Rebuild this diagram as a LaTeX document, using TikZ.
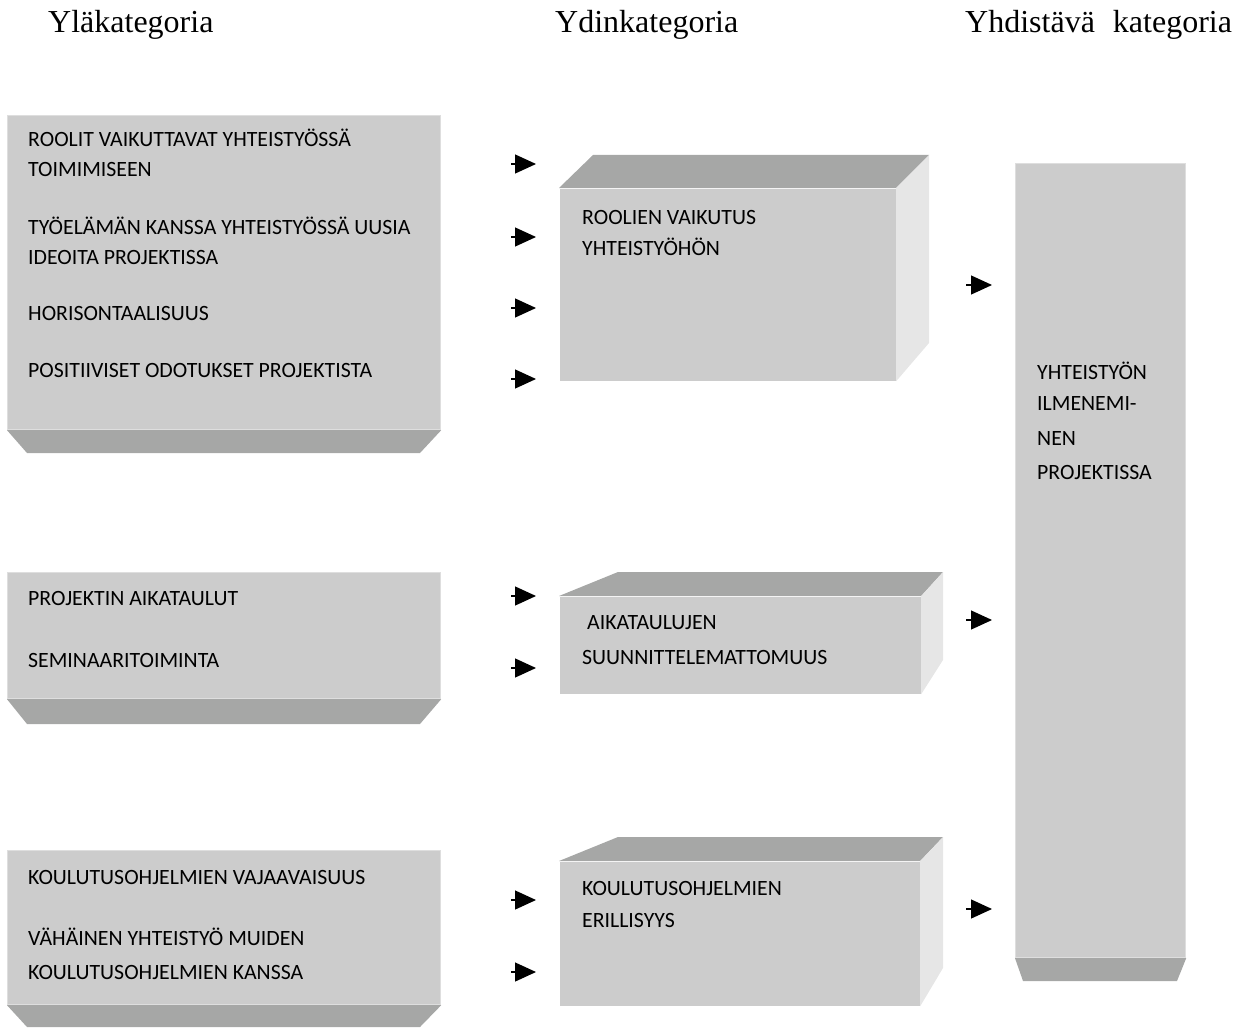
\documentclass[tikz,border=0pt]{standalone}
\usepackage{fontspec}
\setmainfont{Liberation Serif}
\newfontfamily\boxfont{Carlito}
\usetikzlibrary{arrows.meta}
\definecolor{frontgray}{RGB}{204,204,204}
\definecolor{bevelgray}{RGB}{166,167,166}
\definecolor{sidegray}{RGB}{230,230,230}
\definecolor{edgegray}{RGB}{222,222,222}
\tikzset{
  front/.style={fill=frontgray, draw=edgegray, line width=1.2pt, inner sep=0pt, anchor=north west},
  bevel/.style={fill=bevelgray},
  sideface/.style={fill=sidegray},
  topface/.style={fill=bevelgray},
  lbl/.style={font=\boxfont\fontsize{21.8}{30}\selectfont, anchor=base west, inner sep=0pt, text=black},
  title/.style={font=\fontsize{32}{36}\selectfont, anchor=base west, inner sep=0pt},
  arr/.style={line width=1.2pt, -{Triangle[length=21pt,width=19pt]}}
}
\begin{document}
\begin{tikzpicture}[x=1pt,y=-1pt]
\useasboundingbox (0,0) rectangle (1246,1027);
% titles
\node[title] (t1) at (48,33) {Yläkategoria};
\node[title] (t2) at (555,33) {Ydinkategoria};
\node[title] (t3) at (965,33) {Yhdistävä\hspace{18pt}kategoria};

% left boxes
\node[front, minimum width=433pt, minimum height=314pt] (L1) at (7,115) {};
\fill[bevel] (L1.south west) -- (L1.south east) -- (420,453) -- (27,453) -- cycle;
\node[front, minimum width=433pt, minimum height=126pt] (L2) at (7,572) {};
\fill[bevel] (L2.south west) -- (L2.south east) -- (420,724) -- (27,724) -- cycle;
\node[front, minimum width=433pt, minimum height=154pt] (L3) at (7,850) {};
\fill[bevel] (L3.south west) -- (L3.south east) -- (420,1027) -- (27,1027) -- cycle;

% middle boxes
\node[front, draw=none, minimum width=336pt, minimum height=192pt] (M1) at (559,188) {};
\fill[topface] (M1.north west) -- (593,155) -- (929,155) -- (M1.north east) -- cycle;
\fill[sideface] (M1.north east) -- (929,155) -- (929,343) -- (M1.south east) -- cycle;
\node[front, draw=none, minimum width=361pt, minimum height=97pt] (M2) at (559,596) {};
\fill[topface] (M2.north west) -- (618,572) -- (943,572) -- (M2.north east) -- cycle;
\fill[sideface] (M2.north east) -- (943,572) -- (943,660) -- (M2.south east) -- cycle;
\node[front, draw=none, minimum width=360pt, minimum height=144pt] (M3) at (559,861) {};
\fill[topface] (M3.north west) -- (618,837) -- (943,837) -- (M3.north east) -- cycle;
\fill[sideface] (M3.north east) -- (943,837) -- (943,968) -- (M3.south east) -- cycle;

% right tall box
\node[front, minimum width=170pt, minimum height=794pt] (R) at (1015,163) {};
\fill[bevel] (R.south west) -- (R.south east) -- (1177,981) -- (1023,981) -- cycle;

% texts left
\node[lbl] (l1a) at (28,147) {ROOLIT VAIKUTTAVAT YHTEISTYÖSSÄ};
\node[lbl] (l1b) at (28,177) {TOIMIMISEEN};
\node[lbl] (l1c) at (28,234) {TYÖELÄMÄN KANSSA YHTEISTYÖSSÄ UUSIA};
\node[lbl] (l1d) at (28,264) {IDEOITA PROJEKTISSA};
\node[lbl] (l1e) at (28,320) {HORISONTAALISUUS};
\node[lbl] (l1f) at (28,377) {POSITIIVISET ODOTUKSET PROJEKTISTA};
\node[lbl] (l2a) at (28,605) {PROJEKTIN AIKATAULUT};
\node[lbl] (l2b) at (28,667) {SEMINAARITOIMINTA};
\node[lbl] (l3a) at (28,884) {KOULUTUSOHJELMIEN VAJAAVAISUUS};
\node[lbl] (l3b) at (28,945) {VÄHÄINEN YHTEISTYÖ MUIDEN};
\node[lbl] (l3c) at (28,979) {KOULUTUSOHJELMIEN KANSSA};

% texts middle
\node[lbl] (m1a) at (582,224) {ROOLIEN VAIKUTUS};
\node[lbl] (m1b) at (582,255) {YHTEISTYÖHÖN};
\node[lbl] (m2a) at (587,629) {AIKATAULUJEN};
\node[lbl] (m2b) at (582,664) {SUUNNITTELEMATTOMUUS};
\node[lbl] (m3a) at (582,895) {KOULUTUSOHJELMIEN};
\node[lbl] (m3b) at (582,927) {ERILLISYYS};

% texts right
\node[lbl] (r1) at (1037,379) {YHTEISTYÖN};
\node[lbl] (r2) at (1037,410) {ILMENEMI-};
\node[lbl] (r3) at (1037,445) {NEN};
\node[lbl] (r4) at (1037,479) {PROJEKTISSA};

% arrows
\foreach \i/\yy in {1/164,2/237,3/308,4/379,5/596,6/668,7/900,8/972}{
  \coordinate (as\i) at (511,\yy);
  \coordinate (ae\i) at (536,\yy);
  \draw[arr] (as\i) -- (ae\i);
}
\foreach \i/\yy in {1/285,2/620,3/909}{
  \coordinate (rs\i) at (966,\yy);
  \coordinate (re\i) at (992,\yy);
  \draw[arr] (rs\i) -- (re\i);
}
\end{tikzpicture}
\end{document}
